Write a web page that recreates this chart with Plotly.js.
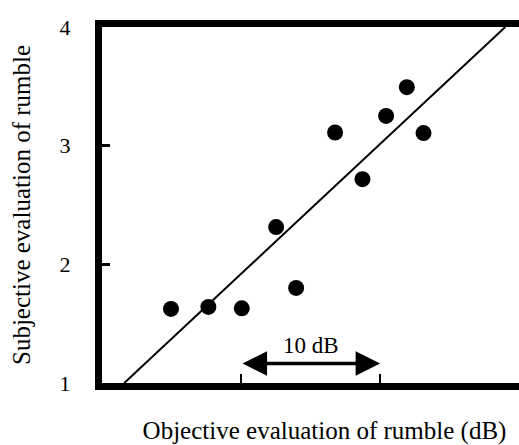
<!DOCTYPE html>
<html>
<head>
<meta charset="utf-8">
<script src="https://cdn.plot.ly/plotly-3.0.1.min.js"></script>
<style>
  html, body { margin: 0; padding: 0; overflow: hidden; background: #fff; }
  #chart { width: 547px; height: 445px; }
</style>
</head>
<body>
<div id="chart"></div>
<script>
// Objective level (dB, relative scale) vs. subjective rumble rating
const objectiveDb = [34.96, 37.65, 40.05, 42.52, 43.96, 46.76, 48.73, 50.43, 51.92, 53.12];
const subjective  = [1.624, 1.641, 1.629, 2.314, 1.801, 3.111, 2.718, 3.251, 3.493, 3.106];

// Regression line end points
const fitX = [31.6, 59.0];
const fitY = [1.0, 4.0];

// 10 dB scale bar
const scaleBarX = [40, 50];
const scaleBarY = 1.164;
const scaleBarLabel = '10 dB';

const yTicks = [1, 2, 3, 4];

const serif = 'Liberation Serif';

const traces = [
  {
    x: fitX, y: fitY, type: 'scatter', mode: 'lines',
    line: { color: '#000', width: 2 }, hoverinfo: 'skip'
  },
  {
    x: objectiveDb, y: subjective, type: 'scatter', mode: 'markers',
    marker: { color: '#000', size: 16 }
  }
];

const layout = {
  width: 547, height: 445,
  margin: { l: 102, r: 0, t: 27, b: 62 },
  paper_bgcolor: '#fff', plot_bgcolor: '#fff',
  showlegend: false,
  font: { family: serif, color: '#000', size: 20 },
  xaxis: {
    range: [30, 62],
    showgrid: false, zeroline: false,
    showline: true, linewidth: 7, linecolor: '#000', mirror: true,
    tickvals: scaleBarX, ticks: 'inside', ticklen: 9, tickwidth: 2.5, tickcolor: '#000',
    showticklabels: false,
    title: { text: 'Objective evaluation of rumble (dB)', font: { family: serif, size: 25, color: '#000' }, standoff: 36 }
  },
  yaxis: {
    range: [1, 4],
    showgrid: false, zeroline: false,
    showline: true, linewidth: 7, linecolor: '#000',
    tickvals: yTicks, ticktext: yTicks.map(String),
    ticks: 'inside', ticklen: 8, tickwidth: 2.5, tickcolor: '#000',
    tickfont: { family: serif, size: 22, color: '#000' },
    ticklabelstandoff: 20,
    title: { text: 'Subjective evaluation of rumble', font: { family: serif, size: 25, color: '#000' }, standoff: 24 }
  },
  annotations: [
    {
      x: scaleBarX[1], y: scaleBarY, ax: scaleBarX[0], ay: scaleBarY,
      xref: 'x', yref: 'y', axref: 'x', ayref: 'y',
      text: '', showarrow: true, arrowside: 'end+start',
      arrowhead: 2, startarrowhead: 2, arrowsize: 1.4, startarrowsize: 1.4,
      arrowwidth: 3.5, arrowcolor: '#000'
    },
    {
      x: (scaleBarX[0] + scaleBarX[1]) / 2, y: scaleBarY,
      xref: 'x', yref: 'y', text: scaleBarLabel, showarrow: false,
      yanchor: 'bottom', yshift: 4,
      font: { family: serif, size: 23, color: '#000' }
    }
  ]
};

Plotly.newPlot('chart', traces, layout, { displayModeBar: false, staticPlot: true });
</script>
</body>
</html>
